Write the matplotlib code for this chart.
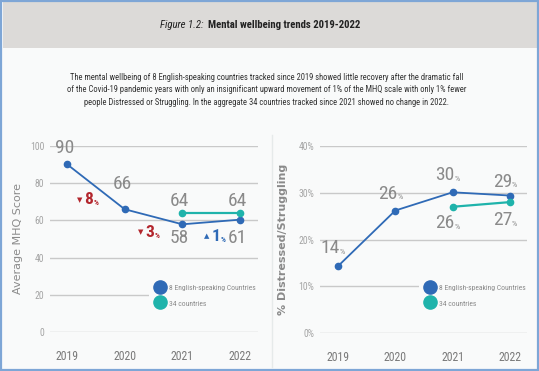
import matplotlib.pyplot as plt
from matplotlib import font_manager
from matplotlib.lines import Line2D
from matplotlib.patches import Rectangle

years = ["2019", "2020", "2021", "2022"]

# left panel: average MHQ score
mhq_eng = [90.2, 66.0, 57.9, 60.4]
mhq_eng_lbl = ["90", "66", "58", "61"]
mhq_34 = [64.1, 64.1]
mhq_34_lbl = ["64", "64"]
mhq_change = ["8", "3", "1"]
mhq_change_dir = ["down", "down", "up"]

# right panel: % distressed / struggling
dis_eng = [14.3, 26.2, 30.1, 29.4]
dis_eng_lbl = ["14", "26", "30", "29"]
dis_34 = [27.0, 28.0]
dis_34_lbl = ["26", "27"]

BLUE = "#2f6ab6"
TEAL = "#1fb3ab"
RED = "#b3262d"
GREY = "#8a8a8a"
BG = "#f9fafa"

# pick a condensed face if one is installed
fonts = font_manager.fontManager.ttflist
names = {f.name for f in fonts}
NF = None
for n in ["Roboto Condensed", "Liberation Sans Narrow", "DejaVu Sans Condensed",
          "Open Sans Condensed"]:
    if n in names:
        NF = {"family": [n, "DejaVu Sans"]}
        NUM_SCALE = 1.0
        break
if NF is None:
    if any(f.name == "DejaVu Sans" and f.stretch == "condensed" for f in fonts):
        NF = {"family": ["DejaVu Sans"], "stretch": "condensed"}
        NUM_SCALE = 0.9
    else:
        NF = {"family": ["Liberation Sans", "DejaVu Sans"]}
        NUM_SCALE = 0.8

W, H = 539, 371
fig = plt.figure(figsize=(W / 100, H / 100), dpi=100)
fig.patch.set_facecolor(BG)
renderer = fig.canvas.get_renderer()


def px(x, y):
    # pixel position (from top-left) -> figure fraction
    return x / W, 1 - y / H


def fit(texts, target):
    # scale font size so the texts together span `target` pixels
    w = sum(t.get_window_extent(renderer).width for t in texts)
    for t in texts:
        t.set_fontsize(t.get_fontsize() * target / w)


# header band and outer border
fig.patches.append(Rectangle(px(3, 48), 534 / W, 47 / H, transform=fig.transFigure,
                             facecolor="#dcdad8", edgecolor="none", zorder=0))
fig.patches.append(Rectangle((0.002, 0.003), 0.996, 0.994, transform=fig.transFigure,
                             facecolor="none", edgecolor="#7ea6d6", lw=1.6, zorder=5))
fig.add_artist(Line2D([272 / W, 272 / W], [1 - 135 / H, 1 - 367 / H],
                      transform=fig.transFigure, color="#e6eaea", lw=1))

t1 = fig.text(*px(160, 25), "Figure 1.2:  ", ha="left", va="center", fontsize=10,
              style="italic", color="#222222", **NF)
t2 = fig.text(*px(200, 25), "Mental wellbeing trends 2019-2022", ha="left", va="center",
              fontsize=10, weight="bold", color="#222222", **NF)
fit([t1, t2], 201)
t2.set_position(px(160 + t1.get_window_extent(renderer).width, 25))

para = ["The mental wellbeing of 8 English-speaking countries tracked since 2019 showed little recovery after the dramatic fall",
        "of the Covid-19 pandemic years with only an insignificant upward movement of 1% of the MHQ scale with only 1% fewer",
        "people Distressed or Struggling. In the aggregate 34 countries tracked since 2021 showed no change in 2022."]
p0 = None
for i, line in enumerate(para):
    t = fig.text(*px(267, 77 + i * 12.7), line, ha="center", va="center",
                 fontsize=7.6, color="#333333", **NF)
    if p0 is None:
        fit([t], 392)
        p0 = t.get_fontsize()
    else:
        t.set_fontsize(p0)


def setup(ax, ylim, ticks, ticklabels, ylabel, ylabel_x):
    ax.set_facecolor("none")
    ax.set_ylim(*ylim)
    ax.set_yticks(ticks)
    ax.set_yticklabels(ticklabels)
    ax.set_xticks(range(len(years)))
    ax.set_xticklabels(years)
    ax.grid(axis="y", color="#c9c9c9", lw=1)
    ax.set_axisbelow(True)
    for s in ax.spines.values():
        s.set_visible(False)
    ax.tick_params(axis="y", length=0, pad=4, labelsize=7 * NUM_SCALE ** 0.5,
                   labelcolor="#a5a5a5")
    ax.tick_params(axis="x", length=0, pad=13, labelsize=8.5 * NUM_SCALE ** 0.5,
                   labelcolor="#7a7a7a")
    for t in ax.get_xticklabels() + ax.get_yticklabels():
        t.set_family(NF["family"])
        t.set_stretch(NF.get("stretch", "normal"))
    ax.set_ylabel(ylabel, fontsize=8, color=GREY)
    ax.yaxis.set_label_coords(ylabel_x, 0.5)


def label(ax, xv, yv, text, dy, pct=False, size=14):
    pts = dy / 1.389
    size = size * NUM_SCALE
    if pct:
        ax.annotate(text, (xv, yv), xytext=(1.5, pts), textcoords="offset points",
                    ha="right", va="center", fontsize=size, color=GREY, **NF)
        ax.annotate("%", (xv, yv), xytext=(1.5, pts - size * 0.3),
                    textcoords="offset points", ha="left", va="baseline",
                    fontsize=6, color=GREY, **NF)
    else:
        ax.annotate(text, (xv, yv), xytext=(-2, pts), textcoords="offset points",
                    ha="center", va="center", fontsize=size, color=GREY, **NF)


def legend(ax, anchor):
    h = [Line2D([], [], ls="none", marker="o", ms=9.5, color=BLUE),
         Line2D([], [], ls="none", marker="o", ms=9.5, color=TEAL)]
    leg = ax.legend(h, ["8 English-speaking Countries", "34 countries"],
                    loc="center left", bbox_to_anchor=anchor, bbox_transform=fig.transFigure,
                    frameon=True, facecolor=BG, edgecolor="none", framealpha=1,
                    labelcolor=GREY, handletextpad=0.1,
                    labelspacing=0.7, borderpad=0.3, handlelength=1.5,
                    prop=dict(size=7.4, **NF))
    fit(leg.get_texts()[:1], 86)
    leg.get_texts()[1].set_fontsize(leg.get_texts()[0].get_fontsize())
    leg.set_zorder(4)


xs = list(range(len(years)))

# ---- left panel
ax1 = fig.add_axes([50 / W, 39 / H, 208 / W, 186 / H])
setup(ax1, (0, 100), [0, 20, 40, 60, 80, 100], ["0", "20", "40", "60", "80", "100"],
      "Average MHQ Score", -0.13)
ax1.set_xlim(-17 / 57.67, 3 + 18 / 57.67)
ax1.plot(xs, mhq_eng, color=BLUE, lw=1.3, marker="o", ms=4.5, zorder=3)
ax1.plot(xs[2:], mhq_34, color=TEAL, lw=1.6, marker="o", ms=4.5, zorder=3)
for xv, yv, t, dy in zip(xs, mhq_eng, mhq_eng_lbl, [16, 25, -14, -18]):
    label(ax1, xv, yv, t, dy)
for xv, yv, t in zip(xs[2:], mhq_34, mhq_34_lbl):
    label(ax1, xv, yv, t, 12)

chg_pos = [(0.225, 71), (1.28, 53.5), (2.43, 51.5)]
for (cx, cy), val, d in zip(chg_pos, mhq_change, mhq_change_dir):
    c = RED if d == "down" else BLUE
    ax1.text(cx, cy, "▼" if d == "down" else "▲", fontsize=5, color=c,
             ha="center", va="center", family="DejaVu Sans")
    tv = ax1.annotate(val, (cx, cy), xytext=(3, 0), textcoords="offset points",
                      ha="left", va="center", fontsize=12.5 * NUM_SCALE, weight="bold",
                      color=c, **NF)
    wv = tv.get_window_extent(renderer).width / 1.389
    ax1.annotate("%", (cx, cy), xytext=(3.3 + wv, -4), textcoords="offset points",
                 ha="left", va="baseline", fontsize=5.5, weight="bold", color=c, **NF)
legend(ax1, (144 / W, 1 - 295 / H))

# ---- right panel
ax2 = fig.add_axes([320 / W, 38 / H, 207 / W, 187 / H])
setup(ax2, (0, 40), [0, 10, 20, 30, 40], ["0%", "10%", "20%", "30%", "40%"],
      "% Distressed/Struggling", -0.155)
ax2.set_xlim(-18 / 57.33, 3 + 17 / 57.33)
ax2.yaxis.label.set_weight("bold")
ax2.plot(xs, dis_eng, color=BLUE, lw=1.3, marker="o", ms=4.5, zorder=3)
ax2.plot(xs[2:], dis_34, color=TEAL, lw=1.6, marker="o", ms=4.5, zorder=3)
for xv, yv, t, dy in zip(xs, dis_eng, dis_eng_lbl, [18, 17, 17, 14]):
    label(ax2, xv, yv, t, dy, pct=True)
for xv, yv, t, dy in zip(xs[2:], dis_34, dis_34_lbl, [-16, -18]):
    label(ax2, xv, yv, t, dy, pct=True)
legend(ax2, (414 / W, 1 - 295 / H))

fig.savefig("out.png", dpi=100, facecolor=fig.get_facecolor())
